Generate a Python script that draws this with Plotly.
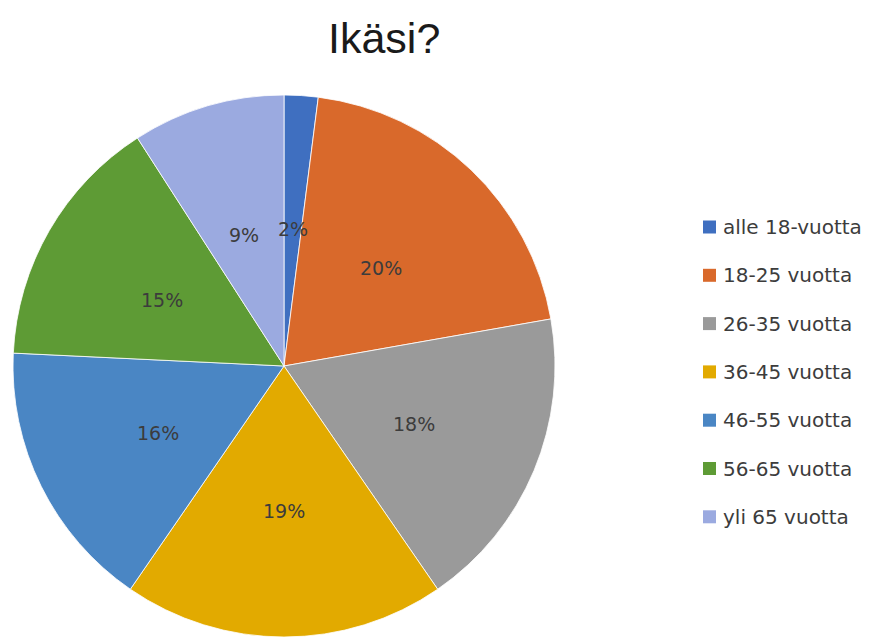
import math
import plotly.graph_objects as go

title = "Ikäsi?"
categories = ["alle 18-vuotta", "18-25 vuotta", "26-35 vuotta", "36-45 vuotta",
              "46-55 vuotta", "56-65 vuotta", "yli 65 vuotta"]
percent_values = [2, 20, 18, 19, 16, 15, 9]
colors = ["#3F6FC0", "#D9692B", "#9A9A9A", "#E2AA00", "#4A86C4", "#5E9B35", "#9BAAE0"]

W, H = 879, 640
cx, cy, R = 284, 366, 271  # pie centre / radius in pixels (top-left origin)

fig = go.Figure(go.Pie(
    labels=categories,
    values=percent_values,
    sort=False,
    direction="clockwise",
    rotation=0,
    marker=dict(colors=colors, line=dict(color="white", width=0.8)),
    textinfo="none",
    hoverinfo="label+percent",
    showlegend=False,
    domain=dict(x=[(cx - R) / W, (cx + R) / W],
                y=[(H - cy - R) / H, (H - cy + R) / H]),
))

annotations = []
# slice labels at mid-angle of each slice
total = sum(percent_values)
cum = 0
label_r = 0.52 * R
for v in percent_values:
    mid = (cum + v / 2) / total * 2 * math.pi
    cum += v
    px = cx + label_r * math.sin(mid)
    py = cy - label_r * math.cos(mid) + 4
    annotations.append(dict(
        x=px / W, y=1 - py / H, xref="paper", yref="paper",
        text=f"{v}%", showarrow=False,
        font=dict(family="DejaVu Sans", size=19, color="#3c3c3c"),
        xanchor="center", yanchor="middle"))

# title
annotations.append(dict(
    x=384 / W, y=1 - 38 / H, xref="paper", yref="paper", text=title,
    showarrow=False, font=dict(family="Liberation Sans", size=43, color="#1a1a1a"),
    xanchor="center", yanchor="middle"))

# manual legend
shapes = []
leg_x, leg_y0, leg_dy, sq = 703, 227, 48.3, 13
for i, (cat, col) in enumerate(zip(categories, colors)):
    yc = leg_y0 + i * leg_dy
    shapes.append(dict(type="rect", xref="paper", yref="paper",
                       x0=leg_x / W, x1=(leg_x + sq) / W,
                       y0=1 - (yc + sq / 2) / H, y1=1 - (yc - sq / 2) / H,
                       fillcolor=col, line=dict(width=0)))
    annotations.append(dict(
        x=(leg_x + sq + 5) / W, y=1 - yc / H, xref="paper", yref="paper",
        text=cat, showarrow=False, xanchor="left", yanchor="middle",
        font=dict(family="DejaVu Sans", size=20, color="#3c3c3c")))

fig.update_layout(
    width=W, height=H,
    margin=dict(l=0, r=0, t=0, b=0),
    paper_bgcolor="white", plot_bgcolor="white",
    annotations=annotations, shapes=shapes,
)

fig.write_html("out.html")
